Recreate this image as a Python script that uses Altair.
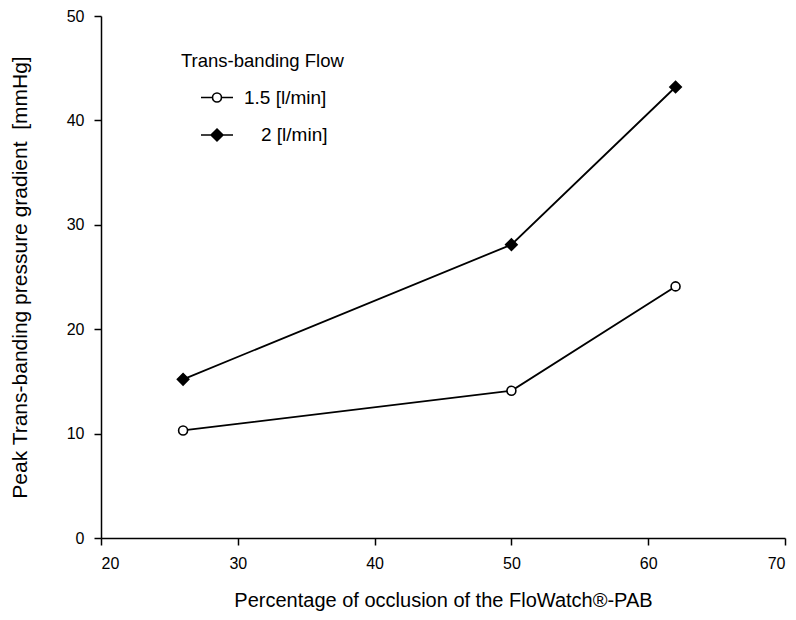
import altair as alt
import pandas as pd

occlusion = [26, 50, 62]
flow_labels = ["1.5 [l/min]", "2 [l/min]"]
gradient_15 = [10.3, 14.1, 24.1]
gradient_2 = [15.2, 28.1, 43.2]
x_ticks = [20, 30, 40, 50, 60, 70]
y_ticks = [0, 10, 20, 30, 40, 50]

rows = []
for x, y in zip(occlusion, gradient_15):
    rows.append({"occ": x, "grad": y, "flow": flow_labels[0]})
for x, y in zip(occlusion, gradient_2):
    rows.append({"occ": x, "grad": y, "flow": flow_labels[1]})
df = pd.DataFrame(rows)

FONT = "Liberation Sans"

circle_path = "M-1,0H-0.28M0.28,0H1M0.28,0A0.28,0.28 0 1,1 -0.28,0A0.28,0.28 0 1,1 0.28,0Z"
diamond_path = "M-1,0H1M0,-0.37L0.37,0L0,0.37L-0.37,0Z"

x_enc = alt.X("occ:Q", scale=alt.Scale(domain=[20, 70], nice=False, zero=False),
              axis=alt.Axis(values=x_ticks, title="Percentage of occlusion of the FloWatch®-PAB",
                            titlePadding=19, titleFontSize=20))
y_enc = alt.Y("grad:Q", scale=alt.Scale(domain=[0, 50], nice=False),
              axis=alt.Axis(values=y_ticks,
                            title="Peak Trans-banding pressure gradient\u00a0\u00a0[mmHg]",
                            titlePadding=36))

base = alt.Chart(df)

lines = base.mark_line(color="black", strokeWidth=1.8).encode(
    x=x_enc, y=y_enc, detail="flow:N"
)

common_legend = dict(
    orient="none", padding=0, symbolSize=1024, symbolOffset=19,
    symbolStrokeColor="black", symbolStrokeWidth=1.6, symbolOpacity=1,
    titleFontSize=18.5, titleFontWeight="normal", titleFont=FONT, titleColor="black",
    labelFontSize=19, labelFont=FONT, labelColor="black",
)

pts_15 = base.transform_filter(alt.datum.flow == flow_labels[0]).mark_point(
    shape="circle", size=80, stroke="black", strokeWidth=1.6, opacity=1, filled=True
).encode(
    x=x_enc, y=y_enc,
    fill=alt.Fill("flow:N", scale=alt.Scale(domain=[flow_labels[0]], range=["white"]),
                  legend=alt.Legend(title="Trans-banding Flow", legendX=80, legendY=36,
                                    titlePadding=10, labelOffset=10,
                                    symbolType=circle_path, **common_legend)),
)

pts_2 = base.transform_filter(alt.datum.flow == flow_labels[1]).mark_point(
    shape="diamond", size=130, stroke="black", strokeWidth=1.6, opacity=1, filled=True
).encode(
    x=x_enc, y=y_enc,
    fill=alt.Fill("flow:N", scale=alt.Scale(domain=[flow_labels[1]], range=["black"]),
                  legend=alt.Legend(title=None, legendX=80, legendY=102,
                                    labelOffset=27,
                                    symbolType=diamond_path, **common_legend)),
)

chart = alt.layer(lines, pts_15, pts_2).resolve_scale(fill="independent").resolve_legend(
    fill="independent"
).properties(
    width=684, height=522,
    autosize=alt.AutoSizeParams(type="none"),
    padding={"left": 93, "top": 8, "right": 3, "bottom": 74},
    background="white",
).configure_view(stroke=None).configure_axis(
    grid=False, domainColor="black", domainWidth=1.5, tickColor="black", tickWidth=1.5,
    tickSize=7, labelFont=FONT, labelFontSize=16, labelColor="black", labelPadding=10,
    titleFont=FONT, titleFontSize=21, titleFontWeight="normal", titleColor="black",
)

chart.save("out.html", embed_options={"renderer": "svg", "actions": False})
